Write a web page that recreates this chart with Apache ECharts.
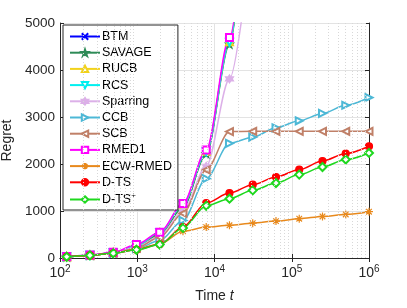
<!DOCTYPE html>
<html>
<head>
<meta charset="utf-8">
<script src="https://cdn.jsdelivr.net/npm/echarts@6/dist/echarts.min.js"></script>
<style>html,body{margin:0;padding:0;background:#fff}#c{width:407px;height:308px}</style>
</head>
<body>
<div id="c"></div>
<script>
var times = [122.07, 244.14, 488.28, 976.56, 1953.1, 3906.25, 7812.5, 15625, 31250, 62500, 125000, 250000, 500000, 1000000];
var seriesNames = ['BTM','SAVAGE','RUCB','RCS','Sparring','CCB','SCB','RMED1','ECW-RMED','D-TS','D-TS+'];
var btm      = [25, 60, 110, 250, 520, 1100, 2250, 4600, 9300];
var savage   = [25, 60, 110, 240, 500, 1080, 2220, 4550, 9200];
var rucb     = [25, 60, 115, 260, 540, 1130, 2270, 4600, 9300];
var rcs      = [25, 60, 115, 260, 540, 1130, 2260, 4590, 9300];
var sparring = [25, 60, 110, 230, 470, 1000, 1950, 3810, 7000];
var ccb      = [25, 55, 100, 200, 370, 800, 1690, 2440, 2570, 2770, 2920, 3075, 3250, 3415];
var scb      = [25, 55, 105, 210, 440, 950, 1875, 2690, 2695, 2695, 2695, 2695, 2695, 2695];
var rmed1    = [30, 65, 120, 285, 550, 1160, 2300, 4690, 9400];
var ecwRmed  = [25, 55, 100, 190, 300, 570, 657, 695, 742, 785, 836, 885, 927, 985];
var dts      = [25, 55, 100, 175, 290, 660, 1170, 1382, 1561, 1723, 1881, 2064, 2222, 2377];
var dtsPlus  = [25, 55, 100, 175, 285, 640, 1110, 1262, 1439, 1595, 1774, 1936, 2094, 2235];
var yTicks = [0, 1000, 2000, 3000, 4000, 5000];
var xDecades = [100, 1000, 10000, 100000, 1000000];
var minorX = [];
for (var d = 100; d < 1000000; d *= 10) { for (var k = 2; k <= 9; k++) minorX.push(d * k); }

var allData = [btm, savage, rucb, rcs, sparring, ccb, scb, rmed1, ecwRmed, dts, dtsPlus];
var colors = ['#0000ff','#2e8b57','#f2d21b','#00f0f0','#dcb0e8','#4db8d6','#c08068','#ff00ff','#e8891c','#ff0000','#1ed81e'];
var symbols = [
  'path://M0,0L10,10M0,10L10,0',
  'path://M5,0L6.2,3.6L10,3.6L6.9,5.9L8.1,9.5L5,7.3L1.9,9.5L3.1,5.9L0,3.6L3.8,3.6Z',
  'emptyTriangle','emptyTriangle',
  'path://M5,0L6.4,2.5L9.3,2.5L7.9,5L9.3,7.5L6.4,7.5L5,10L3.6,7.5L0.7,7.5L2.1,5L0.7,2.5L3.6,2.5Z',
  'emptyTriangle','emptyTriangle','emptyRect',
  'path://M5,0L5,10M0,5L10,5M1.5,1.5L8.5,8.5M1.5,8.5L8.5,1.5',
  'circle','emptyDiamond'
];
var rotates = [0,0,0,180,0,-90,90,0,0,0,0];
var sizes = [7,8,7,7,8,7,7,7,8,7,8];

var series = [{
  type: 'line', data: [], z: 1, silent: true,
  markLine: { silent: true, symbol: 'none', animation: false, label: {show: false},
    lineStyle: {color: '#d8d8d8', type: [1, 2], width: 1},
    data: minorX.map(function(v){ return {xAxis: v}; }) }
}];
seriesNames.forEach(function(n, i) {
  series.push({
    name: n, type: 'line', z: 3,
    data: allData[i].map(function(v, j){ return [times[j], v]; }),
    symbol: symbols[i], symbolSize: sizes[i], symbolRotate: rotates[i], showAllSymbol: true,
    smooth: 0.3, smoothMonotone: 'x',
    lineStyle: {color: colors[i], width: 1.5},
    itemStyle: {color: (i === 0 || i === 8) ? 'none' : colors[i], borderColor: colors[i], borderWidth: 1.2},
    animation: false
  });
});

var chart = echarts.init(document.getElementById('c'));
chart.setOption({
  backgroundColor: '#fff',
  animation: false,
  textStyle: {fontFamily: 'Liberation Sans, Arial, sans-serif'},
  grid: {left: 60, right: 38, top: 23, bottom: 50, containLabel: false, outerBoundsMode: 'none'},
  legend: {
    orient: 'vertical', left: 63, top: 25,
    data: seriesNames.map(function(n){ return {name: n}; }),
    formatter: function(n){ return n === 'D-TS+' ? 'D-TS{s|+}' : n; },
    itemWidth: 30, itemHeight: 8, itemGap: 3.2,
    padding: [5, 6, 4, 6],
    backgroundColor: '#fff', borderColor: '#262626', borderWidth: 1,
    textStyle: {fontSize: 12.5, color: '#000', padding: [0, 0, 0, -3],
      rich: {s: {fontSize: 8, padding: [0, 0, 7, 0]}}}
  },
  xAxis: [{
    type: 'log', logBase: 10, min: 100, max: 1000000,
    name: 'Time {i|t}', nameLocation: 'middle', nameGap: 31,
    nameTextStyle: {fontSize: 14, color: '#262626', rich: {i: {fontStyle: 'italic', fontSize: 14}}},
    axisLine: {lineStyle: {color: '#262626'}},
    axisTick: {inside: true, length: 4, lineStyle: {color: '#262626'}},
    axisLabel: {color: '#262626', margin: 6,
      formatter: function(v){ return '{b|10}{s|' + Math.round(Math.log10(v)) + '}'; },
      rich: {b: {fontSize: 14, color: '#262626'}, s: {fontSize: 10, color: '#262626', padding: [0, 0, 9, 0]}}},
    splitLine: {show: true, lineStyle: {color: '#e3e3e3', width: 1}}
  }, {
    type: 'log', logBase: 10, min: 100, max: 1000000, position: 'top',
    axisLine: {lineStyle: {color: '#262626'}},
    axisTick: {inside: true, length: 4, lineStyle: {color: '#262626'}},
    axisLabel: {show: false}, splitLine: {show: false}
  }],
  yAxis: [{
    type: 'value', min: 0, max: 5000, interval: 1000,
    name: 'Regret', nameLocation: 'middle', nameGap: 33,
    nameTextStyle: {fontSize: 14, color: '#262626'},
    axisLine: {show: true, lineStyle: {color: '#262626'}},
    axisTick: {show: true, inside: true, length: 4, lineStyle: {color: '#262626'}},
    axisLabel: {fontSize: 13.5, color: '#262626', margin: 5, formatter: function(v){ return String(v); }},
    splitLine: {show: true, lineStyle: {color: '#e3e3e3', width: 1}}
  }, {
    type: 'value', min: 0, max: 5000, interval: 1000, position: 'right',
    axisLine: {show: true, lineStyle: {color: '#262626'}},
    axisTick: {show: true, inside: true, length: 4, lineStyle: {color: '#262626'}},
    axisLabel: {show: false}, splitLine: {show: false}
  }],
  series: series
});
</script>
</body>
</html>
